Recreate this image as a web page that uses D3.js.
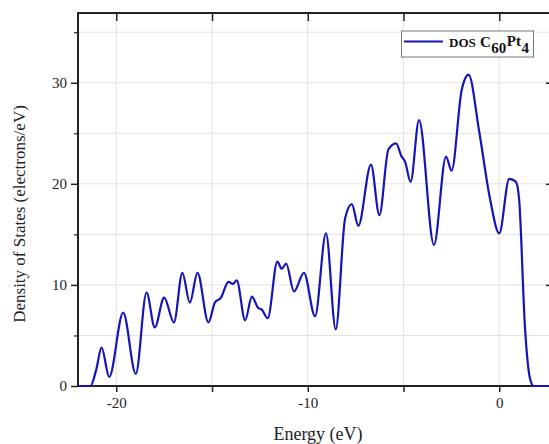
<!DOCTYPE html>
<html><head><meta charset="utf-8">
<script src="https://cdn.jsdelivr.net/npm/d3@7"></script>
<style>body{margin:0;background:#fff}svg{display:block}</style>
</head><body>
<svg id="c" width="549" height="444"></svg>
<script>
const energy = [-22, -21.35, -21.05, -20.77, -20.37, -19.64, -18.98, -18.42, -17.99, -17.5, -16.99, -16.55, -16.16, -15.76, -15.19, -14.84, -14.55, -14.14, -13.91, -13.71, -13.27, -12.92, -12.6, -12.4, -12.09, -11.59, -11.36, -11.13, -10.72, -10.2, -9.62, -9.05, -8.54, -8.05, -7.7, -7.36, -6.7, -6.26, -5.79, -5.39, -5.1, -4.92, -4.63, -4.19, -3.41, -2.78, -2.49, -1.96, -1.6, -1.05, -0.49, 0.0, 0.52, 0.87, 1.04, 1.34, 1.6, 1.8, 2.7];
const dos = [0, 0, 1.6, 3.8, 0.9, 7.25, 1.2, 9.25, 5.8, 8.75, 6.3, 11.2, 8.25, 11.2, 6.3, 8.3, 8.7, 10.3, 10.1, 10.45, 6.5, 8.85, 7.75, 7.55, 6.7, 12.3, 11.6, 12.1, 9.35, 11.2, 6.9, 15.1, 5.6, 16.6, 18.0, 15.85, 21.9, 16.9, 23.4, 24.0, 22.7, 22.2, 20.2, 26.3, 13.95, 22.7, 21.3, 29.3, 30.8, 25.2, 18.6, 15.1, 20.5, 20.2, 18.4, 5.9, 0.8, 0, 0];
const xTicks = [-20, -15, -10, -5, 0];
const xLabels = ["-20", "", "-10", "", "0"];
const yMajor = [0, 10, 20, 30];
const yMinor = [5, 15, 25, 35];
const yGrid = [5, 10, 15, 20, 25, 30, 35];
const seriesName = "DOS";

const svg = d3.select("#c");
const L = 78, R = 550, T = 13, B = 386;
const x = d3.scaleLinear().domain([-22, 2.65]).range([L, R]);
const y = d3.scaleLinear().domain([0, 36.9]).range([B, T]);
const font = "'Liberation Serif','Times New Roman',serif";
const axisCol = "#222";
const lineCol = "#1414b8";

// grid
svg.append("g").selectAll("line").data(xTicks).join("line")
  .attr("x1", d => x(d)).attr("x2", d => x(d)).attr("y1", T).attr("y2", B)
  .attr("stroke", "#e2e2e2").attr("stroke-width", 1);
svg.append("g").selectAll("line").data(yGrid).join("line")
  .attr("x1", L).attr("x2", R).attr("y1", d => y(d)).attr("y2", d => y(d))
  .attr("stroke", "#e2e2e2").attr("stroke-width", 1);

// bottom axis
const bx = d3.axisBottom(x).tickValues(xTicks).tickFormat((d, i) => xLabels[i]).tickSize(6).tickPadding(5);
const gb = svg.append("g").attr("transform", `translate(0,${B})`).call(bx);
gb.select(".domain").remove();
gb.selectAll(".tick line").attr("stroke", axisCol).attr("stroke-width", 1.5);
gb.selectAll("text").attr("font-family", font).attr("font-size", 15).attr("fill", "#222");

// top axis ticks (inward)
const tx = d3.axisBottom(x).tickValues(xTicks).tickFormat("").tickSize(8);
const gt = svg.append("g").attr("transform", `translate(0,${T})`).call(tx);
gt.select(".domain").remove();
gt.selectAll(".tick line").attr("stroke", axisCol).attr("stroke-width", 1.5);

// left axis
const ly = d3.axisLeft(y).tickValues(yMajor).tickSize(7).tickPadding(4);
const gl = svg.append("g").attr("transform", `translate(${L},0)`).call(ly);
gl.select(".domain").remove();
gl.selectAll(".tick line").attr("stroke", axisCol).attr("stroke-width", 1.5);
gl.selectAll("text").attr("font-family", font).attr("font-size", 15).attr("fill", "#222");
const lym = d3.axisLeft(y).tickValues(yMinor).tickFormat("").tickSize(4);
const glm = svg.append("g").attr("transform", `translate(${L},0)`).call(lym);
glm.select(".domain").remove();
glm.selectAll(".tick line").attr("stroke", axisCol).attr("stroke-width", 1.2);

// right axis ticks (inward)
const ry = d3.axisRight(y).tickValues(yMajor.filter(d => d > 0)).tickFormat("").tickSize(5);
const gr = svg.append("g").attr("transform", `translate(${R - 4},0)`).call(ry);
gr.select(".domain").remove();
gr.selectAll(".tick line").attr("stroke", axisCol).attr("stroke-width", 1.5);

// frame
svg.append("line").attr("x1", L).attr("x2", L).attr("y1", T - 1).attr("y2", B + 1).attr("stroke", axisCol).attr("stroke-width", 2);
svg.append("line").attr("x1", L - 1).attr("x2", R).attr("y1", B).attr("y2", B).attr("stroke", axisCol).attr("stroke-width", 2);
svg.append("line").attr("x1", L - 1).attr("x2", R).attr("y1", T).attr("y2", T).attr("stroke", axisCol).attr("stroke-width", 2);
svg.append("line").attr("x1", R).attr("x2", R).attr("y1", T).attr("y2", B).attr("stroke", axisCol).attr("stroke-width", 2);

// curve (drawn on top of the axes)
const pts = energy.map((e, i) => [e, dos[i]]);
svg.append("path").datum(pts)
  .attr("d", d3.line().x(d => x(d[0])).y(d => y(d[1])).curve(d3.curveMonotoneX))
  .attr("fill", "none").attr("stroke", lineCol).attr("stroke-width", 2.2)
  .attr("stroke-linejoin", "round");

// axis titles
svg.append("text").attr("x", 318).attr("y", 440).attr("text-anchor", "middle")
  .attr("font-family", font).attr("font-size", 18).attr("fill", "#222").text("Energy (eV)");
svg.append("text").attr("transform", "translate(25,214) rotate(-90)").attr("text-anchor", "middle")
  .attr("font-family", font).attr("font-size", 17).attr("fill", "#222").text("Density of States (electrons/eV)");

// legend
const lg = svg.append("g");
lg.append("rect").attr("x", 401.5).attr("y", 31).attr("width", 132).attr("height", 26)
  .attr("fill", "#fff").attr("stroke", "#777").attr("stroke-width", 1);
lg.append("line").attr("x1", 404).attr("x2", 443).attr("y1", 41.5).attr("y2", 41.5)
  .attr("stroke", lineCol).attr("stroke-width", 2.2);
const lt = lg.append("text").attr("x", 449).attr("y", 47).attr("font-family", font)
  .attr("font-weight", "bold").attr("fill", "#111");
lt.append("tspan").attr("font-size", 13).text(seriesName);
lt.append("tspan").attr("x", 480).attr("font-size", 15).text("C");
lt.append("tspan").attr("dx", 0.5).attr("dy", 5.5).attr("font-size", 15).text("60");
lt.append("tspan").attr("dx", 0.5).attr("dy", -6.5).attr("font-size", 15).text("Pt");
lt.append("tspan").attr("dx", 0.5).attr("dy", 7).attr("font-size", 15).text("4");
</script>
</body></html>
